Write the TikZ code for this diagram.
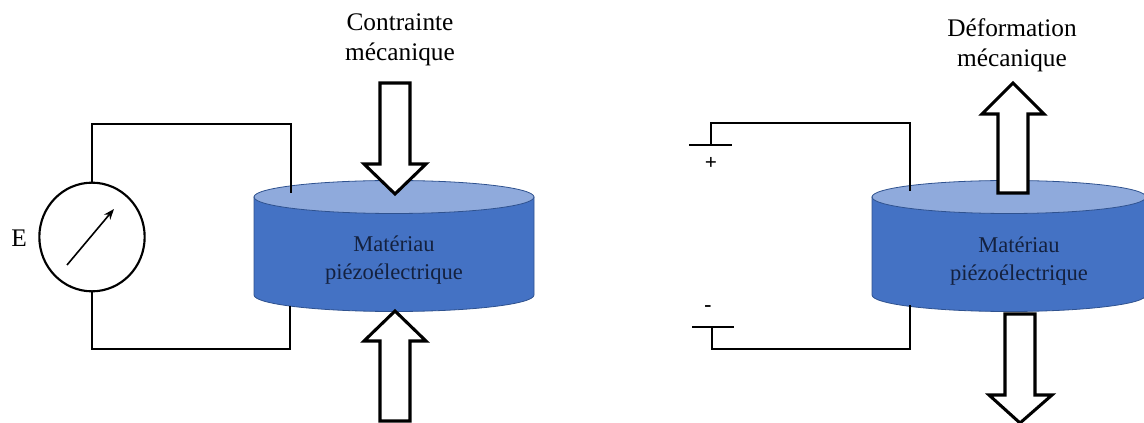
\documentclass[tikz,border=0pt]{standalone}
\usepackage{fontspec}
\setmainfont{Liberation Serif}
\usetikzlibrary{shapes.geometric,arrows.meta}
\definecolor{bodyblue}{HTML}{4472C4}
\definecolor{topblue}{HTML}{8FAADC}
\definecolor{edgeblue}{HTML}{2F528F}
\definecolor{inkblue}{HTML}{14213F}
\tikzset{
  wire/.style={line width=1.6pt},
  fatarrow/.style={draw=black,fill=white,line width=2.3pt,miter limit=10},
  biglabel/.style={align=center,inner sep=0pt,font=\fontsize{19}{22.5}\selectfont},
  matlabel/.style={align=center,inner sep=0pt,text=inkblue,font=\fontsize{16.9}{21}\selectfont},
  signlabel/.style={inner sep=0pt,font=\bfseries\fontsize{16}{16}\selectfont}
}
\begin{document}
\begin{tikzpicture}[x=0.75pt,y=-0.75pt]
  \useasboundingbox (0,0) rectangle (1144,423);
  \def\Ry{16.5} % half height of the cylinder ellipses

  % --- the two cylinders: left edge / half width / name / text centre
  \foreach \x/\Rx/\nm/\tx/\ty in {254/140/L/394/260, 872/137/R/1019/261.5}{
    \draw[edgeblue,fill=bodyblue,line width=0.6pt]
      (\x,197) -- (\x,295) arc[start angle=180,end angle=0,x radius=\Rx,y radius=\Ry]
      -- (\x+2*\Rx,197) -- cycle;
    \draw[edgeblue,fill=topblue,line width=0.6pt]
      (\x+\Rx,197) ellipse[x radius=\Rx,y radius=\Ry];
    \node[matlabel] (mat\nm) at (\tx,\ty) {Matériau\\piézoélectrique};
  }

  % --- left circuit
  \node[draw,wire,fill=white,ellipse,inner sep=0pt,minimum width=79pt,minimum height=81.5pt] (meter) at (92,237) {};
  \node[biglabel] (emf) at (19,238) {E};
  \coordinate (needleA) at (67,265);
  \coordinate (needleB) at (114,209);
  \draw[line width=1.2pt,-{Stealth[length=8pt,width=6pt]}] (needleA) -- (needleB);

  \coordinate (inL) at (291,193);
  \coordinate (outL) at (290,306);
  \coordinate (cornerLT) at (291,124);
  \coordinate (cornerLB) at (290,349);
  \draw[wire] (meter.north) |- (cornerLT) -- (inL);
  \draw[wire] (meter.south) |- (cornerLB) -- (outL);

  % --- right circuit
  \coordinate (plateTa) at (689,145);
  \coordinate (plateTb) at (732,145);
  \coordinate (plateTm) at (711,145);
  \coordinate (plateBa) at (692,327);
  \coordinate (plateBb) at (734,327);
  \coordinate (plateBm) at (712,327);
  \coordinate (inR) at (910,191);
  \coordinate (outR) at (910,305);
  \coordinate (cornerRT) at (910,123);
  \coordinate (cornerRB) at (910,349);
  \draw[wire] (plateTa) -- (plateTb);
  \draw[wire] (plateBa) -- (plateBb);
  \draw[wire] (plateTm) |- (cornerRT) -- (inR);
  \draw[wire] (plateBm) |- (cornerRB) -- (outR);
  \node[signlabel] (plus) at (711,163) {+};
  \node[signlabel] (minus) at (708,309) {-};

  % --- block arrows
  \draw[fatarrow] (380,83) -- (410,83) -- (410,164) -- (426,164) -- (395,194) -- (364,164) -- (380,164) -- cycle;
  \draw[fatarrow] (380,421) -- (410,421) -- (410,341) -- (426,341) -- (395,311) -- (364,341) -- (380,341) -- cycle;
  \draw[fatarrow] (998,193) -- (1028,193) -- (1028,114) -- (1044,114) -- (1013,83) -- (982,114) -- (998,114) -- cycle;
  \draw[fatarrow] (1005,314) -- (1035,314) -- (1035,395) -- (1052,395) -- (1020,423) -- (989,395) -- (1005,395) -- cycle;

  % --- top labels
  \node[biglabel] (stress) at (400,40) {Contrainte\\mécanique};
  \node[biglabel] (strain) at (1012,45.5) {Déformation\\mécanique};
\end{tikzpicture}
\end{document}
